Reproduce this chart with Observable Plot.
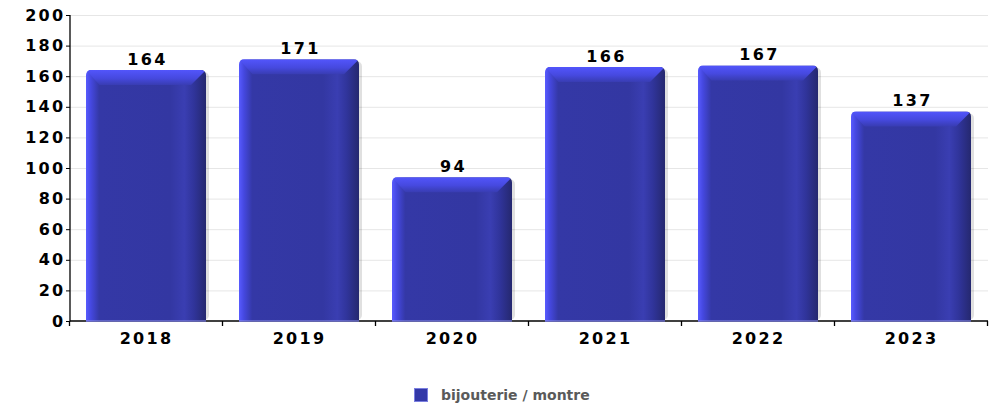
<!DOCTYPE html>
<html><head><meta charset="utf-8">
<script src="https://cdn.jsdelivr.net/npm/d3@7"></script>
<script src="https://cdn.jsdelivr.net/npm/@observablehq/plot@0.6"></script>
<style>
body{margin:0;background:#fff;font-family:"DejaVu Sans",sans-serif;}
#chart{position:relative;width:994px;height:408px;overflow:hidden;}
#chart svg text{letter-spacing:2.3px;}
.legend{position:absolute;left:414px;top:387px;display:flex;align-items:center;font:bold 14px "DejaVu Sans",sans-serif;color:#5a5a5a;}
.legend .sw{width:12px;height:12px;background:#3338a8;border:1px solid #7b7fe0;margin-right:13px;}
</style></head><body><div id="chart"></div>
<script>
const years = ["2018", "2019", "2020", "2021", "2022", "2023"];
const counts = [164, 171, 94, 166, 167, 137];
const yTicks = [0, 20, 40, 60, 80, 100, 120, 140, 160, 180, 200];
const seriesName = "bijouterie / montre";

const data = years.map((year, i) => ({year, value: counts[i]}));

function bars3d(index, scales, values, dimensions) {
  const x = scales.x, y = scales.y;
  const bw = typeof x.bandwidth === "function" ? x.bandwidth() : x.bandwidth;
  const step = typeof x.step === "function" ? x.step() : (x(years[1]) - x(years[0]));
  const g = d3.create("svg:g");
  const defs = g.append("defs");
  const lin = (id, x2, y2, stops) => {
    const lg = defs.append("linearGradient").attr("id", id)
      .attr("x1", 0).attr("y1", 0).attr("x2", x2).attr("y2", y2);
    stops.forEach(([o, c, op]) => lg.append("stop").attr("offset", o).attr("stop-color", c)
      .attr("stop-opacity", op == null ? 1 : op));
  };
  lin("gBody", 1, 0, [[0, "#585bff"], [0.04, "#4548e0"], [0.11, "#3438a6"], [0.70, "#3337a2"],
    [0.82, "#3a3eb2"], [0.9, "#30349a"], [1, "#25286f"]]);
  lin("gTop", 0, 1, [[0, "#5255fb"], [0.55, "#4649df"], [1, "#393db4", 0.9]]);
  const rng = x.range();
  const left = Math.min(rng[0], rng[1]), right = Math.max(rng[0], rng[1]);
  const top = Math.min(...y.range());
  const yb = y(0);
  g.append("line").attr("x1", left).attr("x2", left).attr("y1", top).attr("y2", yb + 0.5)
    .attr("stroke", "#000").attr("stroke-width", 1.3);
  g.append("line").attr("x1", left).attr("x2", right).attr("y1", yb).attr("y2", yb)
    .attr("stroke", "#000").attr("stroke-width", 1.3);
  const pad = (step - bw) / 2;
  const bounds = years.map(yr => x(yr) - pad).concat([x(years[years.length - 1]) + bw + pad]);
  bounds.forEach(xb => g.append("line").attr("x1", xb).attr("x2", xb).attr("y1", yb).attr("y2", yb + 5)
    .attr("stroke", "#000").attr("stroke-width", 1.3));
  const b = 15;
  data.forEach((d, i) => {
    const x0 = x(d.year), x1 = x0 + bw, y0 = y(d.value);
    const cid = "clip" + i;
    defs.append("clipPath").attr("id", cid).append("rect")
      .attr("x", x0).attr("y", y0).attr("width", bw).attr("height", yb - y0 + 10).attr("rx", 5);
    g.append("rect").attr("x", x0 + 3).attr("y", y0 + 2).attr("width", bw).attr("height", yb - y0 - 3)
      .attr("rx", 5).attr("fill", "#000").attr("fill-opacity", 0.12);
    const bar = g.append("g").attr("clip-path", `url(#${cid})`);
    bar.append("rect").attr("x", x0).attr("y", y0).attr("width", bw).attr("height", yb - y0 + 0.5).attr("fill", "url(#gBody)");
    bar.append("polygon").attr("points", [[x0, y0], [x1, y0], [x1 - b, y0 + b], [x0 + b * 0.9, y0 + b]].join(" "))
      .attr("fill", "url(#gTop)");
    bar.append("line").attr("x1", x0).attr("x2", x1).attr("y1", yb).attr("y2", yb)
      .attr("stroke", "#8d8fe8").attr("stroke-width", 1.2);
  });
  return g.node();
}

const chart = Plot.plot({
  width: 994,
  height: 360,
  marginLeft: 70,
  marginRight: 6,
  marginTop: 15,
  marginBottom: 39,
  style: {fontFamily: "DejaVu Sans, sans-serif", fontSize: "16px", fontWeight: "bold", color: "#000", background: "#fff"},
  x: {type: "band", domain: years, paddingInner: 0.215, paddingOuter: 0.1075, label: null, tickSize: 0, tickPadding: 11},
  y: {domain: [0, 200], ticks: yTicks, label: null, tickSize: 4, tickPadding: 1},
  marks: [
    Plot.ruleY(yTicks.filter(t => t > 0), {stroke: "#e6e6e6", strokeOpacity: 1}),
    bars3d,
    Plot.text(data, {x: "year", y: "value", text: d => String(d.value), dy: -11, dx: 1, fontSize: 16, fontWeight: "bold", fill: "#000"})
  ]
});
const host = document.getElementById("chart");
host.appendChild(chart);
const leg = document.createElement("div");
leg.className = "legend";
leg.innerHTML = `<span class="sw"></span><span>${seriesName}</span>`;
host.appendChild(leg);
</script>
</body></html>
